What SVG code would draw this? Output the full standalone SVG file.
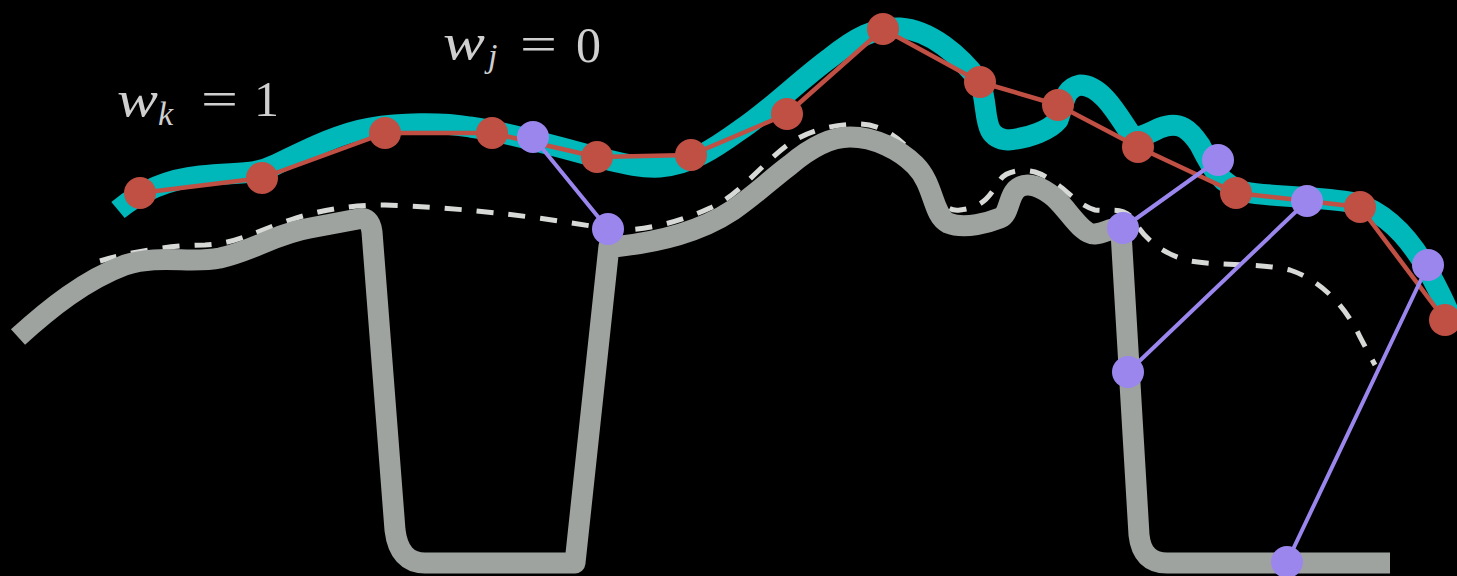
<svg xmlns="http://www.w3.org/2000/svg" width="1457" height="576" viewBox="0 0 1457 576">
<style>
.ground{fill:none;stroke:#9ea39f;stroke-width:21;stroke-linejoin:round;stroke-linecap:butt}
.dash{fill:none;stroke:#d6d9d6;stroke-width:5;stroke-dasharray:17 15}
.teal{fill:none;stroke:#00b7ba;stroke-width:21;stroke-linejoin:round;stroke-linecap:butt}
.redline{fill:none;stroke:#c04f44;stroke-width:4.5;stroke-linejoin:round}
.pline{stroke:#9b86ee;stroke-width:4;stroke-linecap:round}
.red{fill:#c04f44}
.pur{fill:#9b86ee}
.lbl{font-family:"Liberation Serif","Times New Roman",serif;fill:#cfcfcf;font-size:50px}
.it{font-style:italic}
</style>
<rect width="1457" height="576" fill="#000"/>
<g id="smoothed-surface">
<path class="dash" d="M100,261 C130,252 170,245 205,245 C235,244 255,232 290,220 C320,210 350,205 385,205 C450,207 530,215 608,229 C640,233 680,222 710,208 C740,195 760,165 790,143 C810,130 835,124 860,124 C890,125 915,150 930,180 C940,200 945,212 960,210 C985,207 990,195 1000,180 C1005,172 1020,168 1035,172 C1060,180 1075,205 1095,210 C1110,212 1125,205 1135,222 C1145,240 1165,255 1190,261 C1220,266 1260,263 1290,270 C1320,280 1345,305 1360,337 L1375,365"/>
</g>
<g id="surface">
<path class="ground" d="M18,337 C50,308 85,280 125,265 C160,254 190,264 220,258 C255,250 275,234 310,228 L358,219 Q370,216 372,232 L395,530 Q399,563 425,563 L575,563 L609,246 L614,247 C660,242 700,232 733,210 C755,195 770,180 790,165 C810,148 830,137 850,137 C875,137 900,150 915,165 C935,185 932,215 948,223 C965,230 990,222 1000,218 C1010,214 1008,195 1018,188 C1028,181 1042,187 1055,198 C1070,212 1082,235 1095,234 C1108,233 1114,224 1121,232 L1139,535 Q1142,563 1167,563 L1390,563"/>
</g>
<g id="curve">
<path class="teal" d="M118,210 C135,196 160,180 200,176 C240,172 255,175 275,165 C310,148 340,133 370,128 C400,123 440,122 470,127 C510,132 560,148 600,158 C625,164 640,168 660,167 C690,165 715,148 740,130 C770,110 800,80 830,58 C855,38 875,27 900,28 C930,30 960,55 980,82 C990,110 980,138 1008,140 C1030,138 1050,130 1058,120 C1065,100 1065,88 1080,85 C1100,85 1115,110 1128,130 C1135,142 1145,135 1160,128 C1180,120 1190,130 1200,145 C1210,165 1220,185 1245,192 C1270,197 1320,196 1355,203 C1395,215 1420,255 1432,278 C1440,293 1446,305 1450,316"/>
</g>
<g id="connectors">
<polyline class="redline" points="140,193 262,178 385,133 492,133 597,157 691,155 787,114 883,29 980,82 1058,105 1138,147 1236,193 1360,207 1445,320"/>
<line class="pline" x1="533" y1="137" x2="608" y2="229"/>
<line class="pline" x1="1218" y1="160" x2="1123" y2="228"/>
<line class="pline" x1="1307" y1="201" x2="1128" y2="372"/>
<line class="pline" x1="1428" y1="265" x2="1287" y2="562"/>
</g>
<g id="r1"><circle class="red" cx="140" cy="193" r="16"/></g>
<g id="r2"><circle class="red" cx="262" cy="178" r="16"/></g>
<g id="r3"><circle class="red" cx="385" cy="133" r="16"/></g>
<g id="r4"><circle class="red" cx="492" cy="133" r="16"/></g>
<g id="r5"><circle class="red" cx="597" cy="157" r="16"/></g>
<g id="r6"><circle class="red" cx="691" cy="155" r="16"/></g>
<g id="r7"><circle class="red" cx="787" cy="114" r="16"/></g>
<g id="r8"><circle class="red" cx="883" cy="29" r="16"/></g>
<g id="r9"><circle class="red" cx="980" cy="82" r="16"/></g>
<g id="r10"><circle class="red" cx="1058" cy="105" r="16"/></g>
<g id="r11"><circle class="red" cx="1138" cy="147" r="16"/></g>
<g id="r12"><circle class="red" cx="1236" cy="193" r="16"/></g>
<g id="r13"><circle class="red" cx="1360" cy="207" r="16"/></g>
<g id="r14"><circle class="red" cx="1445" cy="320" r="16"/></g>
<g id="p1"><circle class="pur" cx="533" cy="137" r="16"/></g>
<g id="p2"><circle class="pur" cx="608" cy="229" r="16"/></g>
<g id="p3"><circle class="pur" cx="1218" cy="160" r="16"/></g>
<g id="p4"><circle class="pur" cx="1123" cy="228" r="16"/></g>
<g id="p5"><circle class="pur" cx="1307" cy="201" r="16"/></g>
<g id="p6"><circle class="pur" cx="1128" cy="372" r="16"/></g>
<g id="p7"><circle class="pur" cx="1428" cy="265" r="16"/></g>
<g id="p8"><circle class="pur" cx="1287" cy="562" r="16"/></g>
<g id="label-wk">
<text class="lbl it" x="117" y="116" textLength="41" lengthAdjust="spacingAndGlyphs">w</text>
<text class="lbl it" x="158" y="125" style="font-size:34px">k</text>
<text class="lbl" x="201" y="116" textLength="37" lengthAdjust="spacingAndGlyphs">=</text>
<text class="lbl" x="254" y="116">1</text>
</g>
<g id="label-wj">
<text class="lbl it" x="443" y="59" textLength="42" lengthAdjust="spacingAndGlyphs">w</text>
<text class="lbl it" x="488" y="67" style="font-size:34px">j</text>
<text class="lbl" x="520" y="61" textLength="37" lengthAdjust="spacingAndGlyphs">=</text>
<text class="lbl" x="576" y="62">0</text>
</g>
</svg>
